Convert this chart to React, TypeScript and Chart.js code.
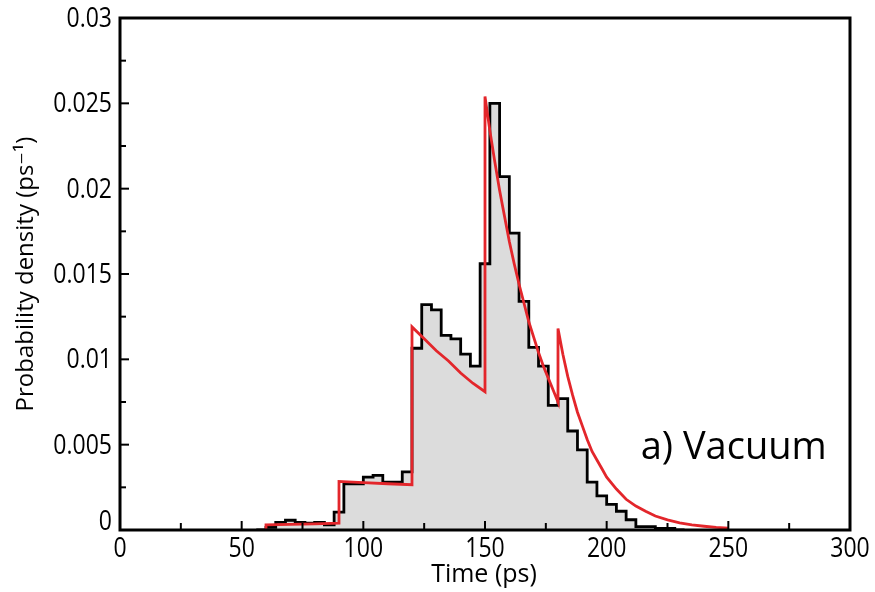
import React, { useEffect, useRef } from "react";
import { Chart, registerables } from "chart.js";

Chart.register(...registerables);

// Histogram (4 ps bins): left edge of each bin and its density
const histEdges = [56, 60, 64, 68, 72, 76, 80, 84, 88, 92, 96, 100, 104, 108, 112, 116, 120, 124, 128, 132, 136, 140, 144, 148, 152, 156, 160, 164, 168, 172, 176, 180, 184, 188, 192, 196, 200, 204, 208, 212, 216, 220, 224, 228, 232];
const histValues = [0, 0.00015, 0.00045, 0.00057, 0.00045, 0.0004, 0.00045, 0.0003, 0.00105, 0.0027, 0.0027, 0.0031, 0.0032, 0.0028, 0.0028, 0.0034, 0.01065, 0.0132, 0.0129, 0.0114, 0.0112, 0.0103, 0.0096, 0.0156, 0.025, 0.0207, 0.0174, 0.0134, 0.0107, 0.0096, 0.0073, 0.0077, 0.0058, 0.0047, 0.0028, 0.002, 0.0015, 0.0011, 0.0006, 0.0002, 0.0002, 0.0001, 0.0001, 0, 0];

// Model curve (red)
const fitTimes = [60, 60, 70, 80, 90, 90, 100, 110, 120, 120, 125, 130, 135, 140, 145, 150, 150, 152, 154, 156, 158, 160, 162, 164, 166, 168, 170, 172, 174, 176, 178, 180, 180, 182, 184, 186, 188, 190, 192, 194, 196, 198, 200, 204, 208, 212, 216, 220, 225, 230, 235, 240, 245, 250];
const fitValues = [0, 0.0003, 0.00033, 0.00036, 0.0004, 0.00285, 0.00278, 0.00271, 0.00265, 0.0119, 0.0112, 0.0105, 0.0099, 0.0092, 0.0086, 0.0081, 0.0254, 0.0234, 0.0216, 0.0199, 0.0184, 0.0169, 0.0156, 0.0144, 0.0133, 0.0122, 0.0113, 0.0104, 0.0096, 0.0089, 0.0082, 0.0075, 0.0118, 0.0103, 0.009, 0.0079, 0.0069, 0.0061, 0.0053, 0.0046, 0.0041, 0.0036, 0.0031, 0.0024, 0.0018, 0.0014, 0.0011, 0.00082, 0.00059, 0.00042, 0.0003, 0.00022, 0.00015, 0.00011];

const xMin = 0;
const xMax = 300;
const yMin = 0;
const yMax = 0.03;
const yStep = 0.005;
const xStep = 50;
const xTitle = "Time (ps)";
const yTitle = "Probability density (ps⁻¹)";
const annotationText = "a) Vacuum";
const annotationX = 214;
const annotationY = 0.0048;

const FONT = "'Open Sans', 'DejaVu Sans', sans-serif";
const TICK_STRETCH = 1.18;

const fmtY = (v: number) => String(Number(v.toFixed(4)));

const framePlugin = {
  id: "frameTicks",
  afterDatasetsDraw(chart: any) {
    const { ctx, chartArea, scales } = chart;
    const xs = scales.x;
    const ys = scales.y;
    ctx.save();
    ctx.strokeStyle = "#000";
    // inward tick marks
    ctx.lineWidth = 2;
    for (let v = 25; v < xMax; v += 25) {
      const px = xs.getPixelForValue(v);
      const len = v % 50 === 0 ? 9 : 7;
      ctx.beginPath();
      ctx.moveTo(px, chartArea.bottom);
      ctx.lineTo(px, chartArea.bottom - len);
      ctx.stroke();
    }
    for (let i = 1; i < 12; i++) {
      const v = i * 0.0025;
      const py = ys.getPixelForValue(v);
      const len = i % 2 === 0 ? 9 : 6;
      ctx.beginPath();
      ctx.moveTo(chartArea.left, py);
      ctx.lineTo(chartArea.left + len, py);
      ctx.stroke();
    }
    ctx.lineWidth = 3;
    ctx.strokeRect(chartArea.left, chartArea.top, chartArea.right - chartArea.left, chartArea.bottom - chartArea.top);

    ctx.fillStyle = "#000";
    // x tick labels
    ctx.font = `23px ${FONT}`;
    ctx.textAlign = "center";
    ctx.textBaseline = "alphabetic";
    xs.ticks.forEach((t: any) => {
      const px = xs.getPixelForValue(t.value);
      ctx.save();
      ctx.translate(px, chartArea.bottom + 27);
      ctx.scale(1, TICK_STRETCH);
      ctx.fillText(String(t.value), 0, 0);
      ctx.restore();
    });
    // y tick labels
    ctx.textAlign = "right";
    ys.ticks.forEach((t: any) => {
      const py = ys.getPixelForValue(t.value);
      ctx.save();
      ctx.translate(chartArea.left - 8, t.value === 0 ? py : py + 9);
      ctx.scale(1, TICK_STRETCH);
      ctx.fillText(fmtY(t.value), 0, 0);
      ctx.restore();
    });
    // axis titles
    ctx.font = `25px ${FONT}`;
    ctx.textAlign = "center";
    ctx.fillText(xTitle, (chartArea.left + chartArea.right) / 2 - 1, chartArea.bottom + 52);
    ctx.save();
    ctx.font = `24px ${FONT}`;
    ctx.translate(chartArea.left - 87, (chartArea.top + chartArea.bottom) / 2);
    ctx.rotate(-Math.PI / 2);
    ctx.fillText(yTitle, 0, 0);
    ctx.restore();
    // annotation
    ctx.font = `38px ${FONT}`;
    ctx.textAlign = "left";
    ctx.textBaseline = "middle";
    ctx.fillText(annotationText, xs.getPixelForValue(annotationX), ys.getPixelForValue(annotationY));
    ctx.restore();
  },
};

export default function App() {
  const ref = useRef<HTMLCanvasElement | null>(null);

  useEffect(() => {
    document.body.style.margin = "0";
    const canvas = ref.current;
    if (!canvas) return;
    const histData = histEdges.map((x, i) => ({ x, y: histValues[i] }));
    const fitData = fitTimes.map((x, i) => ({ x, y: fitValues[i] }));
    const chart = new Chart(canvas, {
      type: "line",
      data: {
        datasets: [
          {
            label: "model",
            data: fitData,
            borderColor: "#e3262b",
            borderWidth: 2.8,
            pointRadius: 0,
            tension: 0,
            fill: false,
            order: 0,
          },
          {
            label: "histogram",
            data: histData,
            stepped: "before",
            borderColor: "#000",
            borderWidth: 2.8,
            backgroundColor: "#dcdcdc",
            fill: "origin",
            pointRadius: 0,
            order: 1,
          },
        ],
      },
      options: {
        animation: false,
        responsive: false,
        maintainAspectRatio: false,
        layout: { padding: { left: 0, right: 25, top: 18, bottom: 0 } },
        plugins: { legend: { display: false }, tooltip: { enabled: false } },
        scales: {
          x: {
            type: "linear",
            min: xMin,
            max: xMax,
            grid: { display: false, drawTicks: false },
            border: { display: false },
            ticks: { stepSize: xStep, display: false },
            afterFit(scale: any) {
              scale.height = 62;
            },
          },
          y: {
            type: "linear",
            min: yMin,
            max: yMax,
            grid: { display: false, drawTicks: false },
            border: { display: false },
            ticks: { stepSize: yStep, display: false },
            afterFit(scale: any) {
              scale.width = 120;
            },
          },
        },
      },
      plugins: [framePlugin],
    });
    return () => chart.destroy();
  }, []);

  return (
    <div style={{ position: "fixed", left: 0, top: 0, width: 875, height: 592, background: "#fff" }}>
      <canvas ref={ref} width={875} height={592} style={{ width: 875, height: 592, display: "block" }} />
    </div>
  );
}
